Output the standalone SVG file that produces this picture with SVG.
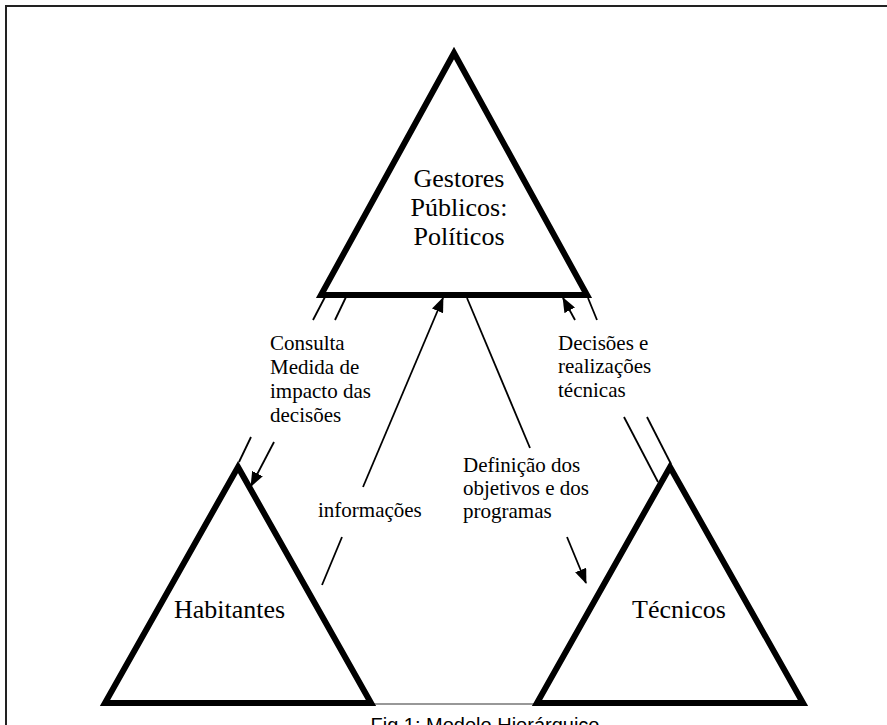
<svg xmlns="http://www.w3.org/2000/svg" width="887" height="725" viewBox="0 0 887 725">
<style>
.tri{fill:#fff;stroke:#000;stroke-width:6;stroke-linejoin:miter;stroke-miterlimit:10}
.big{font-family:"Liberation Serif","Times New Roman",serif;font-size:26px;fill:#000}
.lbl{font-family:"Liberation Serif","Times New Roman",serif;font-size:21px;fill:#000}
.cap{font-family:"Liberation Sans",Arial,sans-serif;font-size:20px;fill:#000}
.ln{stroke:#000;stroke-width:1.8;fill:none}
.arr{stroke:#000;stroke-width:1.8;fill:none;marker-end:url(#ah)}
.base{stroke:#333;stroke-width:1.2;fill:none}
</style>
<defs>
<marker id="ah" markerUnits="userSpaceOnUse" markerWidth="15" markerHeight="12" refX="14" refY="6" orient="auto">
<path d="M0,0 L15,6 L0,12 z" fill="#000"/>
</marker>
</defs>
<rect width="887" height="725" fill="#fff"/>
<path d="M6,725 V6 H887" fill="none" stroke="#222" stroke-width="2"/>
<g id="connectors">
<line class="base" x1="371" y1="704" x2="537" y2="704"/>
<line class="ln" x1="325" y1="297" x2="313" y2="320"/>
<line class="ln" x1="251" y1="437" x2="239" y2="462"/>
<line class="ln" x1="346" y1="297" x2="335" y2="320"/>
<line class="arr" x1="274" y1="442" x2="251" y2="486"/>
<line class="ln" x1="322" y1="585" x2="342" y2="537"/>
<line class="arr" x1="363" y1="487" x2="443" y2="298"/>
<line class="ln" x1="467" y1="298" x2="530" y2="448"/>
<line class="arr" x1="567" y1="537" x2="586" y2="583"/>
<line class="arr" x1="575" y1="320" x2="563" y2="298"/>
<line class="ln" x1="624" y1="417" x2="658" y2="482"/>
<line class="ln" x1="588" y1="298" x2="597" y2="320"/>
<line class="ln" x1="647" y1="417" x2="671" y2="464"/>
<text class="lbl"><tspan x="270" y="350">Consulta</tspan><tspan x="270" y="374">Medida de</tspan><tspan x="270" y="398">impacto das</tspan><tspan x="270" y="422">decisões</tspan></text>
<text class="lbl" x="318" y="517">informações</text>
<text class="lbl"><tspan x="463" y="472">Definição dos</tspan><tspan x="463" y="495">objetivos e dos</tspan><tspan x="463" y="518">programas</tspan></text>
<text class="lbl"><tspan x="558" y="350">Decisões e</tspan><tspan x="558" y="373">realizações</tspan><tspan x="558" y="397">técnicas</tspan></text>
</g>
<g id="gestores">
<polygon class="tri" points="454,53 587,295 321,295"/>
<text class="big" text-anchor="middle"><tspan x="459" y="187">Gestores</tspan><tspan x="459" y="216">Públicos:</tspan><tspan x="459" y="245">Políticos</tspan></text>
</g>
<g id="habitantes">
<polygon class="tri" points="238,467 371,703 105,703"/>
<text class="big" x="174" y="618">Habitantes</text>
</g>
<g id="tecnicos">
<polygon class="tri" points="670,467 803,703 537,703"/>
<text class="big" x="632" y="618">Técnicos</text>
</g>
<text class="cap" x="485" y="732" text-anchor="middle">Fig.1: Modelo Hierárquico</text>
</svg>
